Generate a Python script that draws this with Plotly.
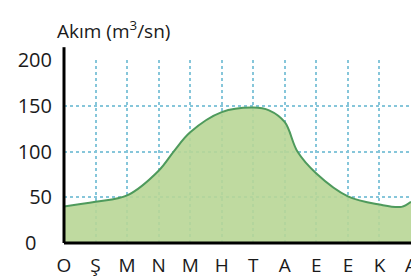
import plotly.graph_objects as go

# month positions (index, with a few in-between readings) and flow values (m3/s)
months = ["O", "Ş", "M", "N", "M", "H", "T", "A", "E", "E", "K", "A"]
month_pos = [0, 1, 2, 3, 3.5, 4, 5, 6, 6.5, 7, 7.4, 8, 9, 10, 10.7, 11]
flow = [40, 45, 52, 79, 101, 121, 143, 148, 145, 132, 100, 76, 51, 42, 39.5, 45]
y_ticks = [0, 50, 100, 150, 200]
y_ticktext = ["0\u00a0\u00a0\u00a0", "50", "100", "150", "200"]

FONT = "Open Sans"

fig = go.Figure()
fig.add_trace(go.Scatter(
    x=month_pos, y=flow, mode="lines",
    line=dict(color="#4e9a5c", width=2, shape="spline", smoothing=1.0),
    fill="tozeroy", fillcolor="rgba(184,214,150,0.9)",
    hoverinfo="skip", showlegend=False,
))

fig.update_layout(
    width=419, height=280,
    margin=dict(l=51, r=10, t=52, b=35),
    paper_bgcolor="white", plot_bgcolor="white",
    font=dict(family=FONT, color="#1a1a1a"),
    xaxis=dict(
        range=[0, 11], tickmode="array", tickvals=list(range(12)), ticktext=months,
        showgrid=True, gridcolor="#86c6da", gridwidth=1.5, griddash="dot",
        showline=False, zeroline=False,
        ticks="outside", ticklen=5, tickcolor="rgba(0,0,0,0)",
        tickfont=dict(size=19, family=FONT, color="#1a1a1a"),
        layer="above traces",
    ),
    yaxis=dict(
        range=[0, 200], tickmode="array", tickvals=y_ticks, ticktext=y_ticktext,
        showgrid=True, gridcolor="#86c6da", gridwidth=1.5, griddash="dot",
        showline=False, zeroline=False,
        ticks="outside", ticklen=7, tickcolor="rgba(0,0,0,0)",
        tickfont=dict(size=20, family=FONT, color="#1a1a1a"),
        layer="above traces",
    ),
    shapes=[
        dict(type="line", xref="paper", yref="paper", x0=0, x1=1.03, y0=0, y1=0,
             line=dict(color="black", width=3)),
        dict(type="line", xref="paper", yref="paper", x0=0, x1=0, y0=0, y1=1.07,
             line=dict(color="black", width=3)),
    ],
    annotations=[
        dict(text="Akım (m<sup>3</sup>/sn)", xref="paper", yref="paper",
             x=-0.025, y=1.165, xanchor="left", yanchor="middle", showarrow=False,
             font=dict(size=19, family=FONT, color="#1a1a1a")),
    ],
)

fig.write_html("out.html")
